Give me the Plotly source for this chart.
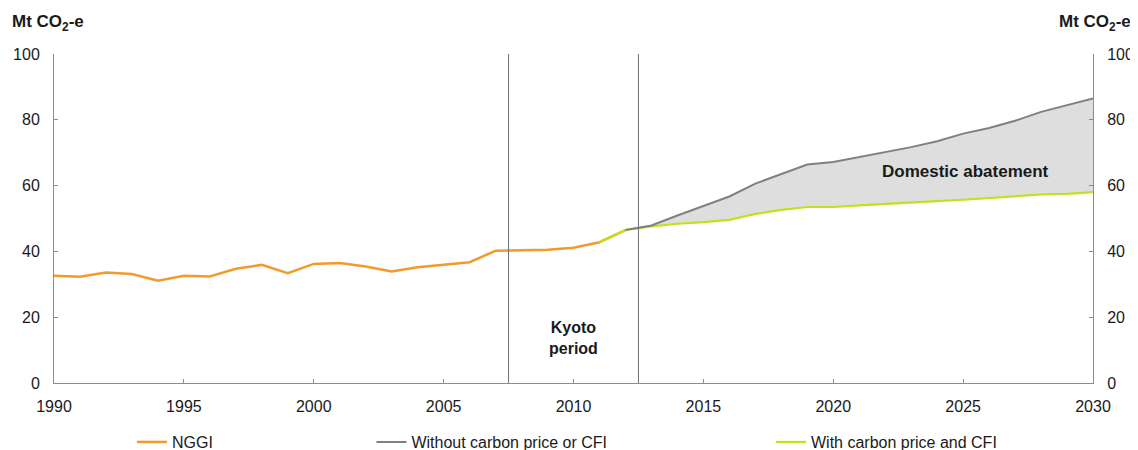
import plotly.graph_objects as go

# ---- data ----
nggi_years = list(range(1990, 2013))
nggi_values = [32.6, 32.3, 33.6, 33.1, 31.1, 32.6, 32.4, 34.7, 35.9, 33.4,
               36.2, 36.5, 35.4, 33.9, 35.2, 36.0, 36.7, 40.2, 40.4, 40.5,
               41.1, 42.8, 46.5]

with_years = list(range(2011, 2031))
with_values = [42.8, 46.5, 47.6, 48.4, 48.9, 49.6, 51.4, 52.6, 53.5, 53.5,
               54.0, 54.5, 54.8, 55.3, 55.7, 56.2, 56.7, 57.3, 57.5, 58.0]

without_years = list(range(2012, 2031))
without_values = [46.5, 47.9, 50.9, 53.7, 56.7, 60.6, 63.6, 66.4, 67.2, 68.7,
                  70.2, 71.7, 73.5, 75.8, 77.5, 79.7, 82.4, 84.5, 86.5]

kyoto_period = [2007.5, 2012.5]
x_ticks = [1990, 1995, 2000, 2005, 2010, 2015, 2020, 2025, 2030]
y_ticks = [0, 20, 40, 60, 80, 100]

# ---- styles ----
ORANGE = "#f39a2c"
GREEN = "#c2e01c"
GREY = "#808080"
FILL = "#dedede"
AXIS = "#8c8c8c"
FONT = "Liberation Sans, Arial, sans-serif"

fig = go.Figure()

# shaded abatement band between the two projections (2012 onward)
with_from_2012 = [v for yr, v in zip(with_years, with_values) if yr >= without_years[0]]
fig.add_trace(go.Scatter(
    x=without_years + without_years[::-1],
    y=without_values + with_from_2012[::-1],
    fill="toself", fillcolor=FILL, line=dict(width=0),
    mode="lines", hoverinfo="skip", showlegend=False,
))

fig.add_trace(go.Scatter(
    x=nggi_years, y=nggi_values, mode="lines", name="NGGI",
    line=dict(color=ORANGE, width=2.5), legend="legend",
))
fig.add_trace(go.Scatter(
    x=with_years, y=with_values, mode="lines", name="With carbon price and CFI",
    line=dict(color=GREEN, width=2.2), legend="legend3",
))
fig.add_trace(go.Scatter(
    x=without_years, y=without_values, mode="lines", name="Without carbon price or CFI",
    line=dict(color=GREY, width=2), legend="legend2",
))
# invisible trace to anchor the right-hand axis
fig.add_trace(go.Scatter(
    x=without_years, y=without_values, mode="lines", yaxis="y2",
    line=dict(width=0), opacity=0, hoverinfo="skip", showlegend=False,
))

for xv in kyoto_period:
    fig.add_shape(type="line", xref="x", yref="y", x0=xv, x1=xv, y0=0, y1=100,
                  line=dict(color="#707070", width=1))

axis_common = dict(
    showgrid=False, zeroline=False, showline=True, linecolor=AXIS, linewidth=1,
    ticks="inside", ticklen=4, tickcolor=AXIS, automargin=False,
    tickfont=dict(family=FONT, size=16, color="#1a1a1a"),
)

# page body adds an 8px offset, so the figure is sized to fit the 1138x450 window
fig.update_layout(
    width=1130, height=442,
    margin=dict(l=46, r=45, t=46, b=67, autoexpand=False),
    paper_bgcolor="white", plot_bgcolor="white",
    font=dict(family=FONT, size=16, color="#1a1a1a"),
    xaxis=dict(range=[1990, 2030], tickvals=x_ticks, ticklabelstandoff=9, **axis_common),
    yaxis=dict(range=[0, 100], tickvals=y_ticks, ticklabelstandoff=10, **axis_common),
    yaxis2=dict(range=[0, 100], tickvals=y_ticks, overlaying="y", side="right",
                ticklabelstandoff=10, **axis_common),
    legend=dict(orientation="h", xref="container", yref="container", x=0.1097, y=0.018,
                xanchor="left", yanchor="middle", font=dict(size=16), bgcolor="rgba(0,0,0,0)"),
    legend2=dict(orientation="h", xref="container", yref="container", x=0.3216, y=0.018,
                 xanchor="left", yanchor="middle", font=dict(size=16), bgcolor="rgba(0,0,0,0)"),
    legend3=dict(orientation="h", xref="container", yref="container", x=0.6752, y=0.018,
                 xanchor="left", yanchor="middle", font=dict(size=16), bgcolor="rgba(0,0,0,0)"),
    annotations=[
        dict(text="<b>Mt CO<sub>2</sub>-e</b>", xref="paper", yref="paper", x=-0.0423, y=1.094,
             xanchor="left", yanchor="middle", showarrow=False, font=dict(size=17)),
        dict(text="<b>Mt CO<sub>2</sub>-e</b>", xref="paper", yref="paper", x=1.0385, y=1.094,
             xanchor="right", yanchor="middle", showarrow=False, font=dict(size=17)),
        dict(text="<b>Domestic abatement</b>", xref="x", yref="y", x=2025.1, y=64.3,
             xanchor="center", yanchor="middle", showarrow=False, font=dict(size=17)),
        dict(text="<b>Kyoto<br>period</b>", xref="x", yref="y", x=2010, y=13.6,
             xanchor="center", yanchor="middle", showarrow=False, font=dict(size=16)),
    ],
)

fig.write_html("out.html")
